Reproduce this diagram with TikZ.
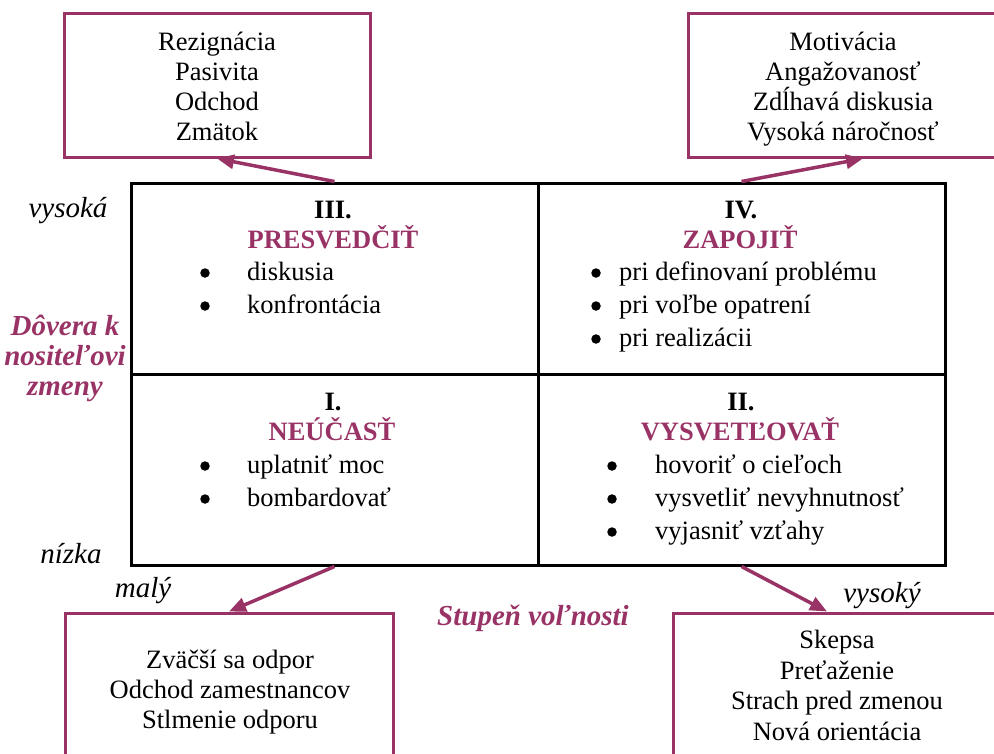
\documentclass[tikz,border=0pt]{standalone}
\usepackage{fontspec}
\setmainfont{Liberation Serif}
\usetikzlibrary{arrows.meta}
\definecolor{plum}{RGB}{153,51,102}

\begin{document}
\begin{tikzpicture}[x=1pt,y=-1pt,
  quad/.style={draw=black,line width=3pt,minimum width=407pt,minimum height=191pt,inner sep=0pt},
  outbox/.style={draw=plum,line width=3pt,inner sep=0pt},
  txt/.style={anchor=base,inner sep=0pt,font=\fontsize{26.5}{30}\selectfont},
  item/.style={anchor=base west,inner sep=0pt,font=\fontsize{26.5}{30}\selectfont},
  dot/.style={circle,fill=black,inner sep=0pt,minimum size=9.5pt},
  num/.style={txt,font=\fontsize{26.5}{30}\selectfont\bfseries},
  head/.style={txt,text=plum,font=\fontsize{26.5}{30}\selectfont\bfseries},
  axis/.style={anchor=base,inner sep=0pt,font=\fontsize{29}{30}\selectfont\itshape},
  axtitle/.style={anchor=base,inner sep=0pt,text=plum,font=\fontsize{29}{30}\selectfont\bfseries\itshape},
  link/.style={draw=plum,line width=3.5pt,-{Triangle[length=17pt,width=14pt]}}]

\clip (0,0) rectangle (994,753);
\fill[white] (0,0) rectangle (994,753);

% the four quadrants of the matrix
\node[quad] (q3) at (334.5,278.5) {};
\node[quad] (q4) at (741.5,278.5) {};
\node[quad] (q1) at (334.5,469.5) {};
\node[quad] (q2) at (741.5,469.5) {};

% consequence boxes in the corners
\node[outbox,minimum width=306pt,minimum height=144pt] (tl) at (217,85) {};
\node[outbox,minimum width=310pt,minimum height=144pt] (tr) at (843,85) {};
\node[outbox,minimum width=328pt,minimum height=160pt] (bl) at (229,693) {};
\node[outbox,minimum width=328pt,minimum height=160pt] (br) at (837,693) {};

\foreach \t [count=\i] in {Rezignácia,Pasivita,Odchod,Zmätok}
  \node[txt] (tlt\i) at (217,{20+30*\i}) {\t};
\foreach \t [count=\i] in {Motivácia,Angažovanosť,Zdĺhavá diskusia,Vysoká náročnosť}
  \node[txt] (trt\i) at (843,{20+30*\i}) {\t};
\foreach \t [count=\i] in {Zväčší sa odpor,Odchod zamestnancov,Stlmenie odporu}
  \node[txt] (blt\i) at (230,{638+30*\i}) {\t};
\foreach \t [count=\i] in {Skepsa,Preťaženie,Strach pred zmenou,Nová orientácia}
  \node[txt] (brt\i) at (837,{618+30.5*\i}) {\t};

% connectors from the quadrants to their consequences
\draw[link] (q3.north) -- (tl.south);
\draw[link] (q4.north) -- ([xshift=20pt]tr.south);
\draw[link] (q1.south) -- (bl.north);
\draw[link] (q2.south) -- ([xshift=-10pt]br.north);

% quadrant III
\node[num]  (n3) at (333,218) {III.};
\node[head] (h3) at (333,248) {PRESVEDČIŤ};
\foreach \t [count=\i] in {diskusia,konfrontácia}{
  \node[dot]  (b3\i) at (205,{240+33*\i}) {};
  \node[item] (i3\i) at (247,{247+33*\i}) {\t};
}

% quadrant IV
\node[num]  (n4) at (741,218) {IV.};
\node[head] (h4) at (740,248) {ZAPOJIŤ};
\foreach \t [count=\i] in {pri definovaní problému,pri voľbe opatrení,pri realizácii}{
  \node[dot]  (b4\i) at (596,{240+33*\i}) {};
  \node[item] (i4\i) at (619,{247+33*\i}) {\t};
}

% quadrant I
\node[num]  (n1) at (333,410) {I.};
\node[head] (h1) at (332,440) {NEÚČASŤ};
\foreach \t [count=\i] in {uplatniť moc,bombardovať}{
  \node[dot]  (b1\i) at (205,{433+33*\i}) {};
  \node[item] (i1\i) at (247,{440+33*\i}) {\t};
}

% quadrant II
\node[num]  (n2) at (741,410) {II.};
\node[head] (h2) at (740,440) {VYSVETĽOVAŤ};
\foreach \t [count=\i] in {hovoriť o cieľoch,vysvetliť nevyhnutnosť,vyjasniť vzťahy}{
  \node[dot]  (b2\i) at (612,{433+33*\i}) {};
  \node[item] (i2\i) at (655,{440+33*\i}) {\t};
}

% axis labels
\node[axis] (yhi) at (68,217) {vysoká};
\node[axis] (ylo) at (71,563) {nízka};
\node[axtitle] (yt1) at (65,335) {Dôvera k};
\node[axtitle] (yt2) at (65,365) {nositeľovi};
\node[axtitle] (yt3) at (65,395) {zmeny};
\node[axis] (xlo) at (143,597) {malý};
\node[axis] (xhi) at (882,602) {vysoký};
\node[axtitle] (xt) at (533,625) {Stupeň voľnosti};
\end{tikzpicture}
\end{document}
